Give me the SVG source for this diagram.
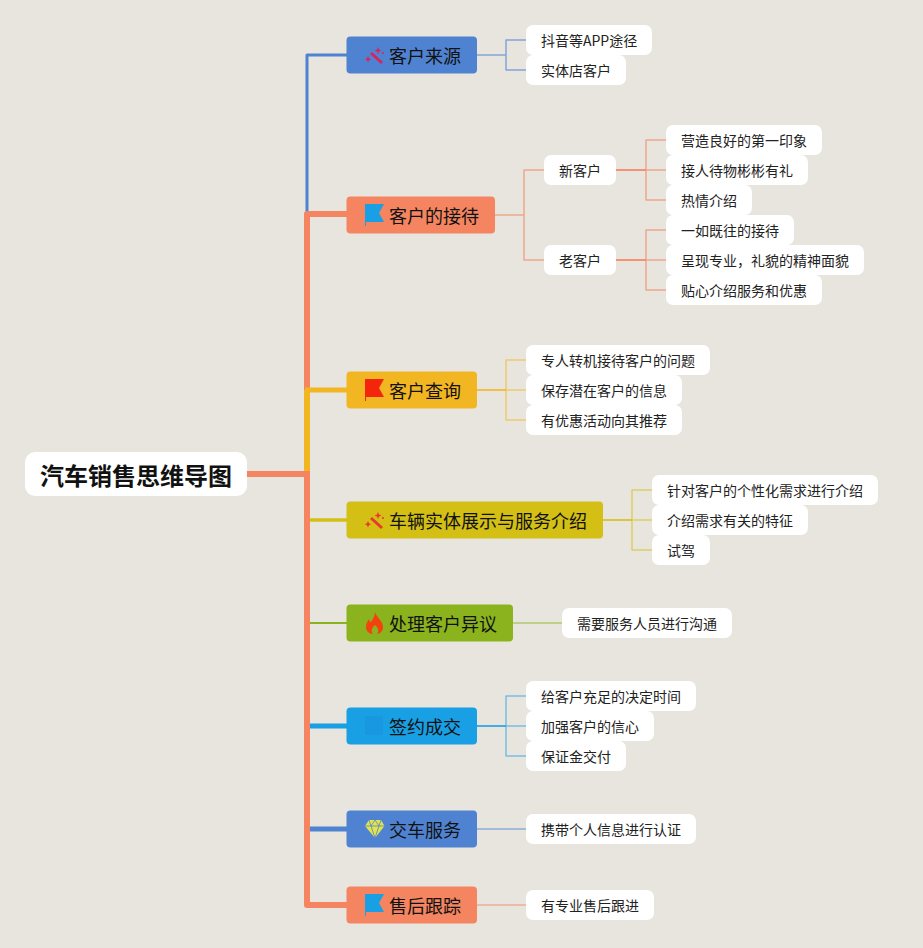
<svg xmlns="http://www.w3.org/2000/svg" width="923" height="948" viewBox="0 0 923 948">
<style>
text{font-family:"Noto Sans CJK SC","Liberation Sans",sans-serif;fill:#111}
.t{font-size:18px;text-anchor:start}
.s{font-size:14px;text-anchor:start;fill:#222}
.l{fill:#fff}
.c{fill:none}
</style>
<defs>
<g id="wand"><path d="M-4 -2L7 8" stroke-width="3" fill="none"/><path d="M3 -8l1 2.500 2.500 1-2.500 1-1 2.500-1-2.500-2.500-1 2.500-1zM-7 1l1 2.200 2.200 1-2.200 1-1 2.200-1-2.200-2.200-1 2.200-1z" stroke="none"/><circle cx="8" cy="-2" r="1" stroke="none"/></g>
<path id="flag" d="M-10 -10H9L4 -1L9 8H-9V12H-10z"/>
</defs>
<rect width="923" height="948" fill="#e7e5de"/>
<g id="connectors" class="c" stroke-linejoin="round">
<path d="M347 55H307V214" stroke="#4f83d1" stroke-width="3"/>
<path d="M247 474H307V214H347" stroke="#f48560" stroke-width="6"/>
<path d="M307 390V471" stroke="#f3b623" stroke-width="6"/>
<path d="M305 390H347" stroke="#f3b623" stroke-width="5"/>
<path d="M310 520H347" stroke="#d4bf14" stroke-width="3.500"/>
<path d="M310 623H347" stroke="#8ab31e" stroke-width="2"/>
<path d="M310 726H347" stroke="#199fe3" stroke-width="5"/>
<path d="M310 829H347" stroke="#4f83d1" stroke-width="5"/>
<path d="M307 474V905H347" stroke="#f48560" stroke-width="6"/>
<g stroke="#4f83d1" opacity=".65" stroke-width="1.500"><path d="M477 55H506M526 40H506V70H526"/></g>
<g stroke="#f48560" opacity=".65" stroke-width="1.500"><path d="M495 215H524M544 170H524V260H544"/><path d="M646 170H666M666 140H646V200H666"/><path d="M646 260H666M666 230H646V290H666"/></g>
<path d="M616 170H646M616 260H646" stroke="#f48560" stroke-width="2" opacity=".85"/>
<path d="M477 390H506" stroke="#f3b623" stroke-width="2" opacity=".8"/>
<g stroke="#f3b623" opacity=".6" stroke-width="1.500"><path d="M526 360H506V420H526M506 390H526"/></g>
<path d="M603 520H632" stroke="#d4bf14" stroke-width="2" opacity=".8"/>
<g stroke="#d4bf14" opacity=".6" stroke-width="1.500"><path d="M652 490H632V550H652M632 520H652"/></g>
<path d="M513 623H562" stroke="#8ab31e" opacity=".6" stroke-width="1.500"/>
<path d="M477 726H506" stroke="#199fe3" stroke-width="2" opacity=".8"/>
<g stroke="#199fe3" opacity=".55" stroke-width="1.500"><path d="M526 696H506V756H526M506 726H526"/></g>
<path d="M477 829H526" stroke="#4f83d1" opacity=".6" stroke-width="1.500"/>
<path d="M477 905H526" stroke="#f48560" opacity=".6" stroke-width="1.500"/>
</g>
<g id="root"><rect x="25" y="452" width="222" height="44" rx="10" fill="#fff"/><text x="40" y="485" style="font-size:24px;font-weight:700">汽车销售思维导图</text></g>
<g id="n1"><rect x="346.500" y="36.500" width="130.500" height="37" rx="4" fill="#4f83d1"/><use href="#wand" x="375" y="55" fill="#d6245f" stroke="#d6245f"/><text class="t" x="389" y="63">客户来源</text></g>
<g id="n2"><rect x="346.500" y="196.500" width="148.500" height="37" rx="4" fill="#f48560"/><use href="#flag" x="375" y="214" fill="#199fe3"/><text class="t" x="389" y="223">客户的接待</text></g>
<g id="n3"><rect x="346.500" y="371.500" width="130.500" height="37" rx="4" fill="#f3b623"/><use href="#flag" x="375" y="389" fill="#f5240d"/><text class="t" x="389" y="398">客户查询</text></g>
<g id="n4"><rect x="346.500" y="501.500" width="256.500" height="37" rx="4" fill="#d4bf14"/><use href="#wand" x="375" y="520" fill="#e8392b" stroke="#e8392b"/><text class="t" x="389" y="528">车辆实体展示与服务介绍</text></g>
<g id="n5"><rect x="346.500" y="604.500" width="166.500" height="37" rx="4" fill="#8ab31e"/><path d="M375 612c1 5 8 9 8 15c0 4-3 7-6 7c2-2 2-6-2-9c-4 3-4 7-2 9c-4 0-7-3-7-7c0-4 2-6 3-8c0 2 1 3 2 3c2-3 4-6 4-10z" fill="#f5410f"/><text class="t" x="389" y="631">处理客户异议</text></g>
<g id="n6"><rect x="346.500" y="707.500" width="130.500" height="37" rx="4" fill="#199fe3"/><rect x="365" y="716" width="18" height="19" fill="#1798e0"/><text class="t" x="389" y="734">签约成交</text></g>
<g id="n7"><rect x="346.500" y="810.500" width="130.500" height="37" rx="4" fill="#4f83d1"/><path d="M369 820H381L384.500 826L375 838L365 826Z" fill="#e4e34e"/><path d="M365 826H385M371 826L375 838L379 826M369 820L371 826L375 820L379 826L381 820" fill="none" stroke="#4f83d1" stroke-width=".8"/><text class="t" x="389" y="837">交车服务</text></g>
<g id="n8"><rect x="346.500" y="886.500" width="130.500" height="37" rx="4" fill="#f48560"/><use href="#flag" x="375" y="904" fill="#199fe3"/><text class="t" x="389" y="913">售后跟踪</text></g>
<g id="leaves">
<g id="a1"><rect class="l" x="526" y="25" width="126" height="30" rx="7"/><text class="s" x="541" y="46">抖音等APP途径</text></g>
<g id="a2"><rect class="l" x="526" y="55" width="100" height="30" rx="7"/><text class="s" x="541" y="76">实体店客户</text></g>
<g id="b1"><rect class="l" x="544" y="155" width="72" height="30" rx="7"/><text class="s" x="559" y="176">新客户</text></g>
<g id="b2"><rect class="l" x="544" y="245" width="72" height="30" rx="7"/><text class="s" x="559" y="266">老客户</text></g>
<g id="b3"><rect class="l" x="666" y="125" width="156" height="30" rx="7"/><text class="s" x="681" y="146">营造良好的第一印象</text></g>
<g id="b4"><rect class="l" x="666" y="155" width="142" height="30" rx="7"/><text class="s" x="681" y="176">接人待物彬彬有礼</text></g>
<g id="b5"><rect class="l" x="666" y="185" width="86" height="30" rx="7"/><text class="s" x="681" y="206">热情介绍</text></g>
<g id="b6"><rect class="l" x="666" y="215" width="128" height="30" rx="7"/><text class="s" x="681" y="236">一如既往的接待</text></g>
<g id="b7"><rect class="l" x="666" y="245" width="198" height="30" rx="7"/><text class="s" x="681" y="266">呈现专业，礼貌的精神面貌</text></g>
<g id="b8"><rect class="l" x="666" y="275" width="156" height="30" rx="7"/><text class="s" x="681" y="296">贴心介绍服务和优惠</text></g>
<g id="c1"><rect class="l" x="526" y="345" width="184" height="30" rx="7"/><text class="s" x="541" y="366">专人转机接待客户的问题</text></g>
<g id="c2"><rect class="l" x="526" y="375" width="156" height="30" rx="7"/><text class="s" x="541" y="396">保存潜在客户的信息</text></g>
<g id="c3"><rect class="l" x="526" y="405" width="156" height="30" rx="7"/><text class="s" x="541" y="426">有优惠活动向其推荐</text></g>
<g id="d1"><rect class="l" x="652" y="475" width="226" height="30" rx="7"/><text class="s" x="667" y="496">针对客户的个性化需求进行介绍</text></g>
<g id="d2"><rect class="l" x="652" y="505" width="156" height="30" rx="7"/><text class="s" x="667" y="526">介绍需求有关的特征</text></g>
<g id="d3"><rect class="l" x="652" y="535" width="58" height="30" rx="7"/><text class="s" x="667" y="556">试驾</text></g>
<g id="e1"><rect class="l" x="562" y="608" width="170" height="30" rx="7"/><text class="s" x="577" y="629">需要服务人员进行沟通</text></g>
<g id="f1"><rect class="l" x="526" y="681" width="170" height="30" rx="7"/><text class="s" x="541" y="702">给客户充足的决定时间</text></g>
<g id="f2"><rect class="l" x="526" y="711" width="128" height="30" rx="7"/><text class="s" x="541" y="732">加强客户的信心</text></g>
<g id="f3"><rect class="l" x="526" y="741" width="100" height="30" rx="7"/><text class="s" x="541" y="762">保证金交付</text></g>
<g id="g1"><rect class="l" x="526" y="814" width="170" height="30" rx="7"/><text class="s" x="541" y="835">携带个人信息进行认证</text></g>
<g id="h1"><rect class="l" x="526" y="890" width="128" height="30" rx="7"/><text class="s" x="541" y="911">有专业售后跟进</text></g>
</g>
</svg>
